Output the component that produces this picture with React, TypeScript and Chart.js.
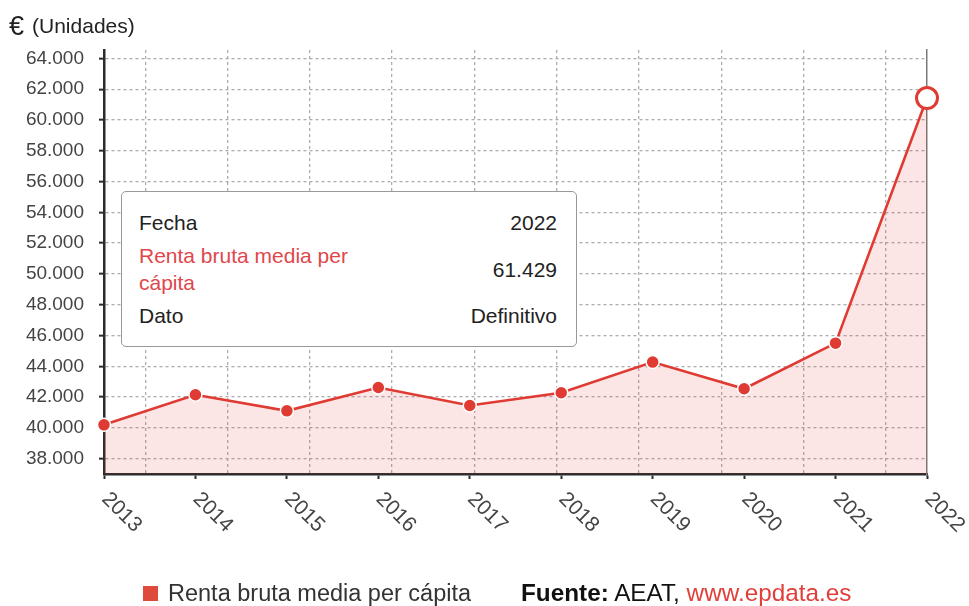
import React, { useEffect, useRef } from "react";
import { Chart, registerables } from "chart.js";

Chart.register(...registerables);

const categories = ["2013", "2014", "2015", "2016", "2017", "2018", "2019", "2020", "2021", "2022"];
const rentaValues = [40195, 42150, 41105, 42620, 41450, 42280, 44270, 42540, 45500, 61429];
const datoTipo = ["Definitivo", "Definitivo", "Definitivo", "Definitivo", "Definitivo", "Definitivo", "Definitivo", "Definitivo", "Definitivo", "Definitivo"];
const yTicks = [38000, 40000, 42000, 44000, 46000, 48000, 50000, 52000, 54000, 56000, 58000, 60000, 62000, 64000];
const yMin = 37000;
const yMax = 64550;
const seriesName = "Renta bruta media per cápita";

const RED = "#e03b33";
const FONT = '"Liberation Sans", Arial, Helvetica, sans-serif';

const fmt = (v: number) =>
  Math.round(v).toString().replace(/\B(?=(\d{3})+(?!\d))/g, ".");

const xLabelPlugin = {
  id: "rotatedXLabels",
  afterDraw(chart: any) {
    const { ctx } = chart;
    const xs = chart.scales.x;
    ctx.save();
    ctx.font = `21px ${FONT}`;
    ctx.fillStyle = "#444";
    ctx.textAlign = "left";
    ctx.textBaseline = "middle";
    categories.forEach((c, i) => {
      const x = xs.getPixelForValue(i);
      ctx.save();
      ctx.translate(x + 1, xs.top + 22);
      ctx.rotate(Math.PI / 4);
      ctx.fillText(c, 0, 0);
      ctx.restore();
    });
    ctx.restore();
  },
};

export default function App() {
  const canvasRef = useRef<HTMLCanvasElement | null>(null);

  useEffect(() => {
    document.body.style.margin = "0";
    const canvas = canvasRef.current;
    if (!canvas) return;
    const last = categories.length - 1;
    const gridPositions = categories.map((_, i) => i + 0.5);
    const chart = new Chart(canvas, {
      type: "line",
      data: {
        labels: categories,
        datasets: [
          {
            label: seriesName,
            data: rentaValues,
            borderColor: RED,
            borderWidth: 2.6,
            backgroundColor: "rgba(224,59,51,0.13)",
            fill: "start",
            tension: 0,
            pointRadius: categories.map((_, i) => (i === last ? 10.5 : 6.5)),
            pointBackgroundColor: categories.map((_, i) => (i === last ? "#ffffff" : RED)),
            pointBorderColor: categories.map((_, i) => (i === last ? RED : "#ffffff")),
            pointBorderWidth: categories.map((_, i) => (i === last ? 3 : 1.5)),
          },
        ],
      },
      options: {
        responsive: false,
        animation: false,
        events: [],
        layout: { padding: { left: 0, top: 50, right: 42, bottom: 0 } },
        plugins: {
          legend: { display: false },
          tooltip: { enabled: false },
          title: { display: false },
        },
        scales: {
          x: {
            type: "category",
            offset: false,
            position: "bottom",
            ticks: { display: false },
            grid: {
              drawOnChartArea: false,
              drawTicks: true,
              tickLength: 5,
              tickColor: "#2b2b2b",
              tickWidth: 2,
            },
            border: { display: true, color: "#2b2b2b", width: 2.5 },
            afterFit: (s: any) => {
              s.height = 132;
            },
          },
          x2: {
            type: "linear",
            position: "top",
            min: 0,
            max: categories.length,
            afterBuildTicks: (s: any) => {
              s.ticks = gridPositions.map((v) => ({ value: v }));
            },
            ticks: { display: false },
            grid: {
              drawOnChartArea: true,
              drawTicks: false,
              color: "#adadad",
              lineWidth: 1.3,
            },
            border: { display: false, dash: [3, 3] },
            afterFit: (s: any) => {
              s.height = 0;
            },
          },
          y: {
            type: "linear",
            position: "left",
            min: yMin,
            max: yMax,
            afterBuildTicks: (s: any) => {
              s.ticks = yTicks.map((v) => ({ value: v }));
            },
            ticks: {
              color: "#444",
              font: { size: 19, family: FONT },
              padding: 15,
              callback: (v: any) => fmt(Number(v)),
            },
            grid: {
              drawOnChartArea: true,
              drawTicks: true,
              tickLength: 5,
              tickColor: "#2b2b2b",
              tickWidth: 2,
              tickBorderDash: [],
              color: "#adadad",
              lineWidth: 1.3,
            },
            border: { display: true, color: "#2b2b2b", width: 2.5, dash: [3, 3] },
            afterFit: (s: any) => {
              s.width = 104;
            },
          },
          y2: {
            type: "linear",
            position: "right",
            min: yMin,
            max: yMax,
            ticks: { display: false },
            grid: { display: false },
            border: { display: true, color: "#7a7a7a", width: 1.5 },
            afterFit: (s: any) => {
              s.width = 0;
            },
          },
        },
      },
      plugins: [xLabelPlugin],
    });
    return () => chart.destroy();
  }, []);

  const last = categories.length - 1;

  return (
    <div style={{ position: "relative", width: 969, height: 606, fontFamily: FONT, background: "#fff" }}>
      <canvas ref={canvasRef} width={969} height={606} style={{ position: "absolute", left: 0, top: 0 }} />
      <div
        style={{
          position: "absolute",
          left: 9,
          top: 13,
          fontSize: 21,
          color: "#222",
          lineHeight: "26px",
          whiteSpace: "nowrap",
          display: "flex",
          alignItems: "center",
        }}
      >
        <span style={{ fontSize: 27, marginRight: 8, lineHeight: "26px" }}>€</span>
        <span>(Unidades)</span>
      </div>
      <div
        style={{
          position: "absolute",
          left: 121,
          top: 191,
          width: 456,
          height: 156,
          boxSizing: "border-box",
          border: "1px solid #999",
          borderRadius: 5,
          background: "#fff",
          padding: "17px 19px 0 17px",
          fontSize: 21,
          color: "#222",
          lineHeight: "27px",
        }}
      >
        <div style={{ display: "flex", justifyContent: "space-between", alignItems: "center" }}>
          <span>Fecha</span>
          <span>{categories[last]}</span>
        </div>
        <div
          style={{
            display: "flex",
            justifyContent: "space-between",
            alignItems: "center",
            marginTop: 6,
          }}
        >
          <span style={{ color: "#e0474c", width: 240 }}>{seriesName}</span>
          <span>{fmt(rentaValues[last])}</span>
        </div>
        <div
          style={{
            display: "flex",
            justifyContent: "space-between",
            alignItems: "center",
            marginTop: 6,
          }}
        >
          <span>Dato</span>
          <span>{datoTipo[last]}</span>
        </div>
      </div>
      <div
        style={{
          position: "absolute",
          left: 143,
          top: 580,
          height: 26,
          display: "flex",
          alignItems: "center",
          color: "#333",
          whiteSpace: "nowrap",
        }}
      >
        <span
          style={{
            display: "inline-block",
            width: 15,
            height: 15,
            background: "#de4a3b",
            marginRight: 10,
          }}
        />
        <span style={{ fontSize: 23.5 }}>{seriesName}</span>
        <span style={{ position: "absolute", left: 378, top: 0, lineHeight: "26px", fontSize: 24.3, color: "#111" }}>
          <b>Fuente:</b> AEAT, <span style={{ color: "#e0403a" }}>www.epdata.es</span>
        </span>
      </div>
    </div>
  );
}
